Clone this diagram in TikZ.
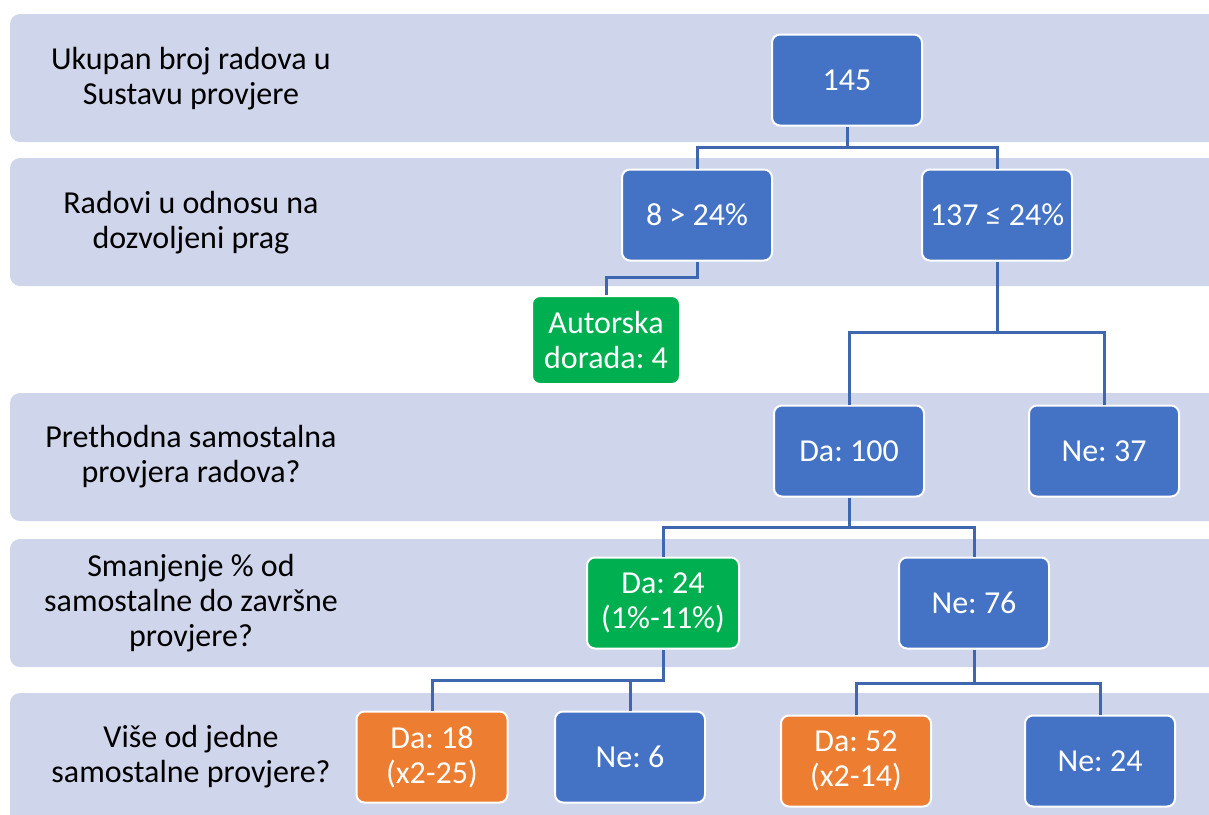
\documentclass[tikz,border=0pt]{standalone}
\usepackage{fontspec}
\setmainfont{Carlito}
\frenchspacing
\definecolor{band}{HTML}{CFD5EA}
\definecolor{nblue}{HTML}{4472C4}
\definecolor{ngreen}{HTML}{00B050}
\definecolor{norange}{HTML}{ED7D31}
\definecolor{lineblue}{HTML}{3F67B0}
\begin{document}
\begin{tikzpicture}[x=1pt,y=-1pt,
  bandbox/.style={fill=band, draw=none, rounded corners=10pt},
  lbl/.style={align=center, font=\fontsize{32}{35}\selectfont, text=black},
  box/.style={draw=white, line width=2pt, rounded corners=8pt, minimum width=150pt, minimum height=91pt, align=center, text=white, font=\fontsize{32}{35}\selectfont, inner sep=2pt},
  bluebox/.style={box, fill=nblue},
  greenbox/.style={box, fill=ngreen},
  orangebox/.style={box, fill=norange},
  conn/.style={draw=lineblue, line width=3pt}]
\useasboundingbox (0,0) rectangle (1209,814);
\clip (0,0) rectangle (1209,814);
% bands
\fill[bandbox] (10,14) rectangle (1240,142);
\fill[bandbox] (10,158) rectangle (1240,286);
\fill[bandbox] (10,393) rectangle (1240,521);
\fill[bandbox] (10,539) rectangle (1240,667);
\fill[bandbox] (10,693) rectangle (1240,840);
% labels
\node[lbl] (l1) at (191,79) {Ukupan broj radova u\\Sustavu provjere};
\node[lbl] (l2) at (191,223) {Radovi u odnosu na\\dozvoljeni prag};
\node[lbl] (l3) at (191,457) {Prethodna samostalna\\provjera radova?};
\node[lbl] (l4) at (191,603) {Smanjenje \% od\\samostalne do završne\\provjere?};
\node[lbl] (l5) at (191,757) {Više od jedne\\samostalne provjere?};
% nodes
\node[bluebox] (n145) at (847,80) {145};
\node[bluebox] (n8) at (697,215) {8 > 24\%};
\node[bluebox] (n137) at (997,215) {137 ≤ 24\%};
\node[greenbox, minimum width=148pt, minimum height=88pt] (aut) at (606,340) {Autorska\\dorada: 4};
\node[bluebox] (da100) at (849,451) {Da: 100};
\node[bluebox] (ne37) at (1104,451) {Ne: 37};
\node[greenbox, minimum width=152pt] (da24) at (663,603) {Da: 24\\(1\%-11\%)};
\node[bluebox] (ne76) at (974,603) {Ne: 76};
\node[orangebox, minimum width=151pt] (da18) at (432,757) {Da: 18\\(x2-25)};
\node[bluebox] (ne6) at (630,757) {Ne: 6};
\node[orangebox] (da52) at (856,761) {Da: 52\\(x2-14)};
\node[bluebox] (ne24) at (1100,761) {Ne: 24};
% connectors
\draw[conn] (n145.south) -- (n145.south |- 0,147) -| (n8.north);
\draw[conn] (n145.south |- 0,147) -| (n137.north);
\draw[conn] (n8.south) -- (n8.south |- 0,277) -| (aut.north);
\draw[conn] (n137.south) -- (n137.south |- 0,332) -| (da100.north);
\draw[conn] (n137.south |- 0,332) -| (ne37.north);
\draw[conn] (da100.south) -- (da100.south |- 0,527) -| (da24.north);
\draw[conn] (da100.south |- 0,527) -| (ne76.north);
\draw[conn] (da24.south) -- (da24.south |- 0,680) -| (da18.north);
\draw[conn] (da24.south |- 0,680) -| (ne6.north);
\draw[conn] (ne76.south) -- (ne76.south |- 0,683) -| (da52.north);
\draw[conn] (ne76.south |- 0,683) -| (ne24.north);
\end{tikzpicture}
\end{document}
